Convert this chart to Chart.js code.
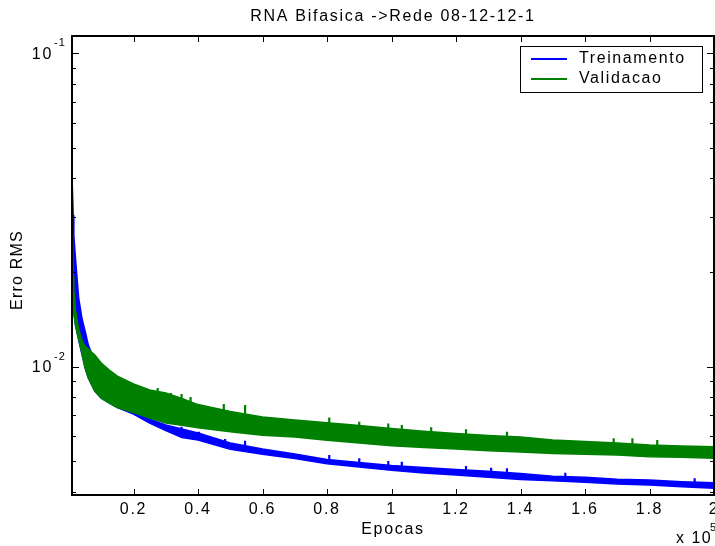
<!DOCTYPE html>
<html><head><meta charset="utf-8">
<script src="https://cdn.jsdelivr.net/npm/chart.js@4/dist/chart.umd.min.js"></script>
<style>html,body{margin:0;padding:0;background:#fff;overflow:hidden}canvas{display:block}</style>
</head><body>
<canvas id="c" width="715" height="546" style="width:715px;height:546px"></canvas>
<script>
// ---- data (epochs vs RMS error envelopes of the noisy curves) ----
const epochs = [1000,1300,1500,2000,3000,4000,5000,6000,8000,10000,12500,15000,20000,25000,30000,35000,40000,50000,60000,70000,80000,90000,100000,110000,120000,130000,140000,150000,160000,170000,180000,190000,200000];
const validUpper = [0.0281,0.01946,0.01756,0.01516,0.01319,0.01217,0.01164,0.01139,0.01090,0.01028,0.009761,0.009341,0.008812,0.008428,0.008245,0.007918,0.007576,0.007196,0.006910,0.006760,0.006628,0.006494,0.006353,0.006224,0.006124,0.006035,0.005969,0.005838,0.005774,0.005712,0.005628,0.005587,0.005559];
const validLower = [0.01632,0.01539,0.01483,0.01358,0.01226,0.01106,0.009906,0.009204,0.008366,0.007947,0.007660,0.007410,0.007145,0.006861,0.006613,0.006503,0.006391,0.006201,0.006043,0.005969,0.005830,0.005712,0.005595,0.005526,0.005466,0.005401,0.005347,0.005292,0.005257,0.005230,0.005169,0.005143,0.005105];
const trainUpper = [0.03851,0.03045,0.02610,0.02221,0.01656,0.01430,0.01300,0.01173,0.01035,0.009548,0.008744,0.008126,0.007438,0.006810,0.006518,0.006330,0.006148,0.005712,0.005466,0.005269,0.005060,0.004950,0.004842,0.004772,0.004702,0.004641,0.004567,0.004473,0.004440,0.004376,0.004353,0.004299,0.004267];
const trainLower = [0.01756,0.01597,0.01494,0.01358,0.01217,0.01098,0.009906,0.009204,0.008366,0.007947,0.007660,0.007410,0.007066,0.006613,0.006260,0.005947,0.005838,0.005453,0.005257,0.005098,0.004903,0.004789,0.004674,0.004582,0.004516,0.004444,0.004372,0.004331,0.004280,0.004227,0.004196,0.004144,0.004096];

const validSpikeEpochs = [27500,31600,34900,37700,48000,54600,80700,90000,99000,103200,112300,123100,135800,168900,174700,182400];
const validSpikeTop  = [0.008553,0.008245,0.008185,0.008007,0.007604,0.007548,0.006896,0.006677,0.006599,0.006518,0.006409,0.006315,0.006205,0.005912,0.005912,0.005838];
const validSpikeBase = [0.00783,0.00766,0.007548,0.007383,0.007066,0.006861,0.006376,0.006192,0.006103,0.006013,0.005925,0.005838,0.005754,0.005506,0.005466,0.005426];
const trainSpikeEpochs = [34900,40300,48400,54600,80700,90000,99000,103200,123100,130900,135800,153900,194000];
const trainSpikeTop  = [0.006437,0.006205,0.005882,0.005809,0.005230,0.005105,0.005005,0.004980,0.004825,0.004764,0.004744,0.004593,0.004408];
const trainSpikeBase = [0.006148,0.005925,0.005587,0.005426,0.005005,0.004896,0.004789,0.004755,0.004616,0.004550,0.004516,0.004417,0.004227];

const xTickValues = [20000,40000,60000,80000,100000,120000,140000,160000,180000,200000];
const xTickLabels = ['0.2','0.4','0.6','0.8','1','1.2','1.4','1.6','1.8','2'];
const yMajorTicks = [0.01,0.1];
const yMajorBase = ['10','10'];
const yMajorExp = ['-2','-1'];
const yMinorTicks = [0.004,0.005,0.006,0.007,0.008,0.009,0.02,0.03,0.04,0.05,0.06,0.07,0.08,0.09];
const seriesNames = ['Treinamento','Validacao'];
const titleText = 'RNA Bifasica ->Rede 08-12-12-1';
const xTitle = 'Epocas';
const yTitle = 'Erro RMS';

const BLUE = '#0000ff', GREEN = '#008000';
const FONT = "'Liberation Sans', Arial, Helvetica, sans-serif";

const pts = (xs, ys) => xs.map((x, i) => ({x, y: ys[i]}));
function spikes(xs, top, base) {
  const out = [];
  xs.forEach((x, i) => { out.push({x, y: base[i]}, {x, y: top[i]}, {x, y: null}); });
  return out;
}

function txt(ctx, s, x, y, size, align, spacing) {
  ctx.font = size + 'px ' + FONT;
  ctx.textAlign = align;
  ctx.textBaseline = 'middle';
  try { ctx.letterSpacing = (spacing == null ? 1.7 : spacing) + 'px'; } catch (e) {}
  ctx.fillText(s, x, y);
}

const decor = {
  id: 'decor',
  afterDraw(chart) {
    const {ctx, chartArea: a, scales: {x, y}} = chart;
    ctx.save();
    ctx.fillStyle = '#000';
    ctx.strokeStyle = '#000';
    // ticks
    ctx.lineWidth = 1;
    ctx.beginPath();
    xTickValues.forEach(v => {
      const px = Math.round(x.getPixelForValue(v)) + 0.5;
      ctx.moveTo(px, a.bottom); ctx.lineTo(px, a.bottom - 6);
      ctx.moveTo(px, a.top); ctx.lineTo(px, a.top + 6);
    });
    yMajorTicks.forEach(v => {
      const py = Math.round(y.getPixelForValue(v)) + 0.5;
      ctx.moveTo(a.left, py); ctx.lineTo(a.left + 7, py);
      ctx.moveTo(a.right, py); ctx.lineTo(a.right - 7, py);
    });
    yMinorTicks.forEach(v => {
      const py = Math.round(y.getPixelForValue(v)) + 0.5;
      ctx.moveTo(a.left, py); ctx.lineTo(a.left + 4, py);
      ctx.moveTo(a.right, py); ctx.lineTo(a.right - 4, py);
    });
    ctx.stroke();
    // frame
    ctx.lineWidth = 2;
    ctx.strokeRect(a.left, a.top, a.right - a.left, a.bottom - a.top);
    // x tick labels
    xTickValues.forEach((v, i) => {
      txt(ctx, xTickLabels[i], x.getPixelForValue(v), a.bottom + 15, 16, 'center');
    });
    // y tick labels
    yMajorTicks.forEach((v, i) => {
      const py = y.getPixelForValue(v);
      txt(ctx, yMajorBase[i], a.left - 19, py + 1, 16, 'right');
      txt(ctx, yMajorExp[i], a.left - 18, py - 10, 11, 'left', 1);
    });
    // title & axis titles
    txt(ctx, titleText, (a.left + a.right) / 2, 17, 16, 'center');
    txt(ctx, xTitle, (a.left + a.right) / 2, 530, 16, 'center');
    txt(ctx, 'x 10', 676, 539, 16, 'left', 1.5);
    txt(ctx, '5', 710, 528, 11, 'left', 1);
    ctx.save();
    ctx.translate(18, 270);
    ctx.rotate(-Math.PI / 2);
    txt(ctx, yTitle, 0, 0, 16, 'center', 1.2);
    ctx.restore();
    // legend
    const lx = 520, ly = 46, lw = 182, lh = 46;
    ctx.fillStyle = '#fff';
    ctx.fillRect(lx, ly, lw, lh);
    ctx.lineWidth = 1;
    ctx.strokeStyle = '#000';
    ctx.strokeRect(lx + 0.5, ly + 0.5, lw, lh);
    [BLUE, GREEN].forEach((c, i) => {
      const yy = 59 + i * 20;
      ctx.strokeStyle = c; ctx.lineWidth = 2;
      ctx.beginPath(); ctx.moveTo(531, yy); ctx.lineTo(567, yy); ctx.stroke();
      ctx.fillStyle = '#000';
      txt(ctx, seriesNames[i], 579, yy, 16, 'left', 1.6);
    });
    ctx.restore();
  }
};

const line = (data, color, fill, w) => ({
  data, borderColor: color, backgroundColor: color, borderWidth: w || 1.5,
  pointRadius: 0, tension: 0, fill: fill, spanGaps: false
});

new Chart(document.getElementById('c'), {
  type: 'line',
  data: {
    datasets: [
      line(pts(epochs, validUpper), GREEN, '+1'),
      line(pts(epochs, validLower), GREEN, false),
      line(spikes(validSpikeEpochs, validSpikeTop, validSpikeBase), GREEN, false, 2.2),
      line(pts(epochs, trainUpper), BLUE, '+1'),
      line(pts(epochs, trainLower), BLUE, false),
      line(spikes(trainSpikeEpochs, trainSpikeTop, trainSpikeBase), BLUE, false, 2.2)
    ]
  },
  options: {
    responsive: false, animation: false, devicePixelRatio: 1,
    layout: {padding: {top: 36, right: 1, left: 0, bottom: 0}},
    plugins: {legend: {display: false}, tooltip: {enabled: false}, title: {display: false}},
    scales: {
      x: {type: 'linear', min: 930, max: 200000,
          grid: {display: false, drawTicks: false}, border: {display: false},
          ticks: {display: false}, afterFit(s) { s.height = 51; }},
      y: {type: 'logarithmic', min: 0.0039, max: 0.1135,
          grid: {display: false, drawTicks: false}, border: {display: false},
          ticks: {display: false}, afterFit(s) { s.width = 72; }}
    }
  },
  plugins: [decor]
});
</script>
</body></html>
